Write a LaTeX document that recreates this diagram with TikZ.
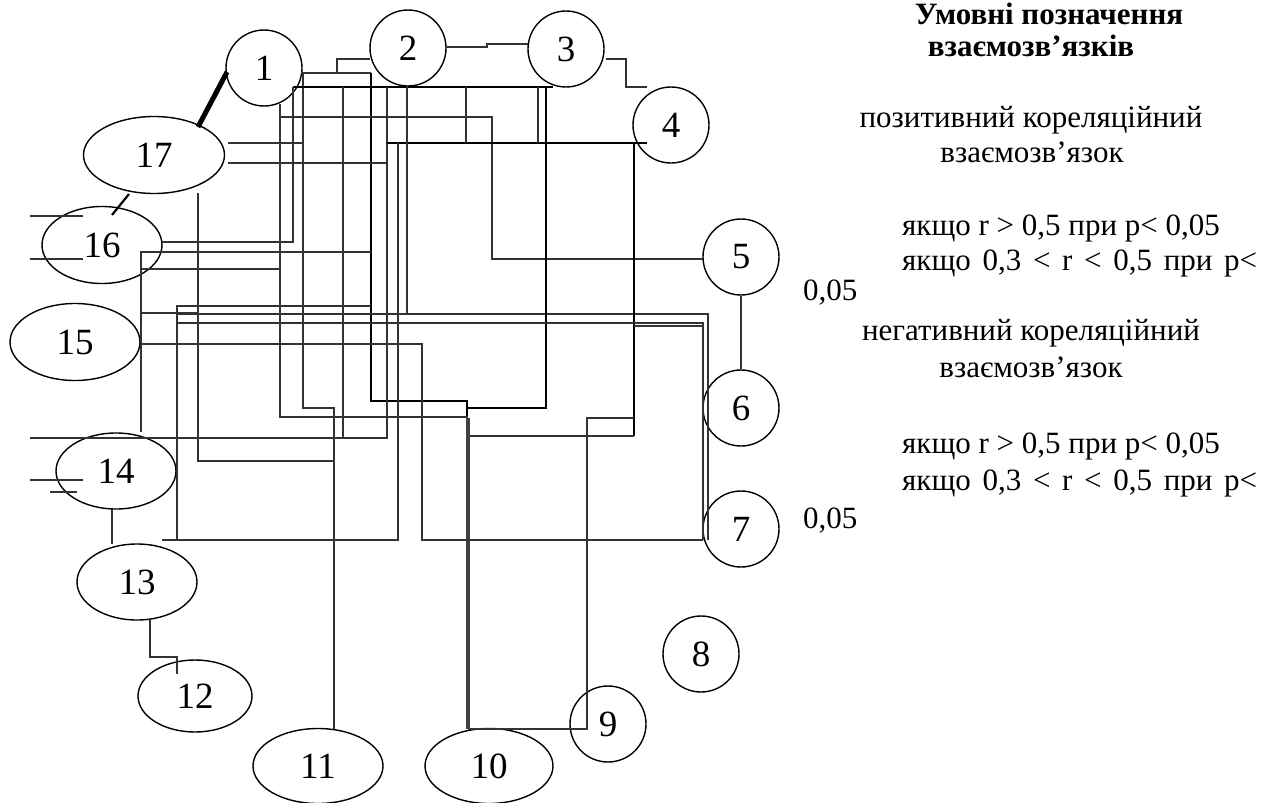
\documentclass[tikz,border=0pt]{standalone}
\usepackage{fontspec}
\setmainfont{Liberation Serif}
\usetikzlibrary{shapes.geometric}
\newcommand\numfnt{\fontsize{37}{42}\selectfont}
\newcommand\lgfnt{\fontsize{31}{36}\selectfont}
\begin{document}
\begin{tikzpicture}[x=1pt,y=-1pt,
  circ/.style={draw,circle,line width=1.4pt,minimum size=76pt,inner sep=0pt,font=\numfnt},
  ell/.style={draw,ellipse,line width=1.4pt,inner sep=0pt,font=\numfnt},
  ln/.style={line width=1.2pt,black!80},
  lnd/.style={line width=1.8pt,black},
  lg/.style={anchor=base,font=\lgfnt,inner sep=0pt},
  lgb/.style={anchor=base,font=\lgfnt\bfseries,inner sep=0pt},
  lgl/.style={anchor=base west,font=\lgfnt,inner sep=0pt}]
\useasboundingbox (0,0) rectangle (1285,803);
% nodes
\node[circ] (n1) at (264,68) {1};
\node[circ] (n2) at (408,48) {2};
\node[circ] (n3) at (566,49) {3};
\node[circ] (n4) at (671,125) {4};
\node[circ] (n5) at (741,257) {5};
\node[circ] (n6) at (741,408) {6};
\node[circ] (n7) at (741,529) {7};
\node[circ] (n8) at (701,654) {8};
\node[circ] (n9) at (608,724) {9};
\node[ell,minimum width=128pt,minimum height=75pt] (n10) at (489,766) {10};
\node[ell,minimum width=130pt,minimum height=75pt] (n11) at (318,766) {11};
\node[ell,minimum width=114pt,minimum height=72pt] (n12) at (195,696) {12};
\node[ell,minimum width=120pt,minimum height=76pt] (n13) at (137,582) {13};
\node[ell,minimum width=120pt,minimum height=76pt] (n14) at (116,471) {14};
\node[ell,minimum width=130pt,minimum height=77pt] (n15) at (75,342) {15};
\node[ell,minimum width=120pt,minimum height=77pt] (n16) at (102,245) {16};
\node[ell,minimum width=141pt,minimum height=77pt] (n17) at (154,155) {17};
% special links
\draw[line width=5pt] (227,72) -- (198,127);
\draw[line width=2.2pt] (129,194) -- (112,215);
\draw[ln] (n5.south) -- (n6.north);
\draw[ln] (445,47) -- (487,47) -- (487,44) -- (528,44);
\draw[ln] (606,59) -- (626,59) -- (626,87) -- (647,87);
\draw[ln] (370,59) -- (337,59) -- (337,73);
\draw[ln] (112,509) -- (112,544);
\draw[ln] (150,620) -- (150,657) -- (177,657) -- (177,674);
% tangle
\draw[ln] (301,73) -- (371,73);
\draw[lnd] (371,73) -- (371,401) -- (467,401) -- (467,418);
\draw[ln] (303,73) -- (303,408) -- (334,408) -- (334,729);
\draw[ln] (228,143) -- (303,143);
\draw[lnd] (293,87) -- (553,87);
\draw[ln] (293,87) -- (293,242) -- (162,242);
\draw[ln] (280,104) -- (280,417) -- (468,417);
\draw[ln] (280,117) -- (492,117) -- (492,259) -- (703,259);
\draw[ln] (228,163) -- (387,163);
\draw[ln] (387,87) -- (387,438);
\draw[lnd] (387,143) -- (647,143);
\draw[ln] (343,87) -- (343,438);
\draw[ln] (30,438) -- (388,438);
\draw[ln] (398,143) -- (398,540) -- (162,540);
\draw[ln] (407,86) -- (407,314);
\draw[ln] (177,314) -- (708,314) -- (708,540);
\draw[ln] (466,87) -- (466,143);
\draw[ln] (538,87) -- (538,143);
\draw[lnd] (546,87) -- (546,408) -- (468,408);
\draw[lnd] (634,143) -- (634,436);
\draw[ln] (634,436) -- (468,436);
\draw[ln] (634,326) -- (703,326);
\draw[ln] (177,323) -- (703,323) -- (703,540);
\draw[ln] (634,418) -- (587,418) -- (587,729) -- (468,729);
\draw[line width=3.5pt,black!75] (468,418) -- (468,729);
\draw[ln] (141,432) -- (141,252) -- (371,252);
\draw[ln] (141,269) -- (280,269);
\draw[ln] (141,313) -- (198,313);
\draw[ln] (198,193) -- (198,461) -- (334,461);
\draw[ln] (177,540) -- (177,306) -- (371,306);
\draw[ln] (140,344) -- (422,344) -- (422,540) -- (703,540);
% stubs
\draw[ln] (30,216) -- (83,216);
\draw[ln] (30,259) -- (83,259);
\draw[ln] (30,480) -- (83,480);
\draw[ln] (50,492) -- (77,492);
% legend
\node[lgb] (h1) at (1049,24) {Умовні позначення};
\node[lgb] (h2) at (1031,56) {взаємозв’язків};
\node[lg] (p1) at (1031,127) {позитивний кореляційний};
\node[lg] (p2) at (1032,162) {взаємозв’язок};
\node[lgl] (p3) at (902,235) {якщо r > 0,5 при p< 0,05};
\node[lgl] (p4) at (902,270) {\makebox[355pt][s]{якщо 0,3 < r < 0,5 при p<}};
\node[lgl] (p5) at (803,300) {0,05};
\node[lg] (m1) at (1031,340) {негативний кореляційний};
\node[lg] (m2) at (1031,377) {взаємозв’язок};
\node[lgl] (m3) at (902,453) {якщо r > 0,5 при p< 0,05};
\node[lgl] (m4) at (902,490) {\makebox[355pt][s]{якщо 0,3 < r < 0,5 при p<}};
\node[lgl] (m5) at (803,528) {0,05};
\end{tikzpicture}
\end{document}
